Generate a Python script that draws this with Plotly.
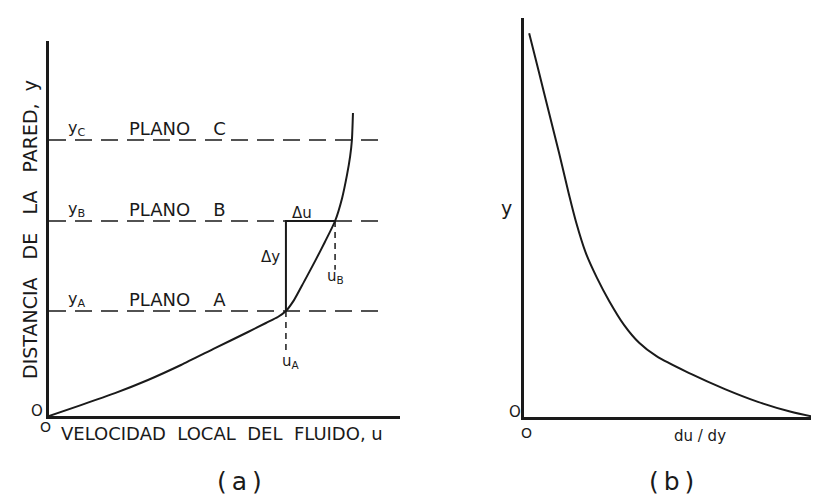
import plotly.graph_objects as go

# ---------------- Panel (a): velocity profile ----------------
u_profile = [0.0, 0.91, 1.88, 2.82, 3.76, 4.73, 5.67, 6.18, 6.52, 6.75, 6.98, 7.26, 7.58, 7.86, 8.15,
             8.35, 8.49, 8.58, 8.63, 8.66]
y_profile = [0.0, 0.29, 0.61, 0.96, 1.36, 1.81, 2.24, 2.48, 2.64, 2.80, 3.09, 3.57, 4.13, 4.64, 5.20,
             5.81, 6.43, 6.93, 7.36, 8.08]

plane_names = ["PLANO    A", "PLANO    B", "PLANO    C"]
plane_y = [2.80, 5.20, 7.36]
plane_labels = ["y<sub>A</sub>", "y<sub>B</sub>", "y<sub>C</sub>"]
plane_u_end = 9.6

u_A = 6.75
u_B = 8.15
u_A_drop = 1.68
u_B_drop = 3.90

# ---------------- Panel (b): velocity gradient ----------------
dudy = [0.17, 0.50, 0.83, 1.16, 1.47, 1.72, 2.03, 2.40, 2.81, 3.30, 3.80, 4.36, 5.51, 6.63, 7.72, 8.81, 9.60]
y_grad = [9.62, 8.62, 7.61, 6.61, 5.62, 4.88, 4.13, 3.50, 2.91, 2.31, 1.86, 1.53, 1.08, 0.70, 0.38, 0.13, 0.0]

FONT = "DejaVu Sans"
INK = "#1a1a1a"
W, H = 819, 497

fig = go.Figure()

fig.add_trace(go.Scatter(x=u_profile, y=y_profile, mode="lines",
                         line=dict(color=INK, width=2, shape="spline", smoothing=0.6),
                         xaxis="x", yaxis="y", hoverinfo="skip"))
for py in plane_y:
    fig.add_trace(go.Scatter(x=[0, plane_u_end], y=[py, py], mode="lines",
                             line=dict(color=INK, width=1.6, dash="17px,9px"),
                             xaxis="x", yaxis="y", hoverinfo="skip"))
fig.add_trace(go.Scatter(x=[u_A, u_A, u_B], y=[plane_y[0], plane_y[1], plane_y[1]], mode="lines",
                         line=dict(color=INK, width=2), xaxis="x", yaxis="y", hoverinfo="skip"))
fig.add_trace(go.Scatter(x=[u_A, u_A], y=[plane_y[0], u_A_drop], mode="lines",
                         line=dict(color=INK, width=1.5, dash="6px,5px"), xaxis="x", yaxis="y", hoverinfo="skip"))
fig.add_trace(go.Scatter(x=[u_B, u_B], y=[plane_y[1], u_B_drop], mode="lines",
                         line=dict(color=INK, width=1.5, dash="6px,5px"), xaxis="x", yaxis="y", hoverinfo="skip"))

fig.add_trace(go.Scatter(x=dudy, y=y_grad, mode="lines",
                         line=dict(color=INK, width=2, shape="spline", smoothing=1.0),
                         xaxis="x2", yaxis="y2", hoverinfo="skip"))

ann = []
def T(px, py, text, size=16, angle=0, xanchor="center"):
    ann.append(dict(x=px / W, y=1 - py / H, xref="paper", yref="paper", text=text, showarrow=False,
                    font=dict(family=FONT, size=size, color=INK), textangle=angle,
                    xanchor=xanchor, yanchor="middle"))

for name, py, lab in zip(plane_names, [291, 201, 120], plane_labels):
    T(119, py, name, 18, xanchor="left")
    T(68, py, lab, 16)

T(294, 205, "Δu", 15)
T(262, 249, "Δy", 15)
T(283, 353, "u<sub>A</sub>", 15)
T(327, 268, "u<sub>B</sub>", 15)
T(214, 425, "VELOCIDAD  LOCAL  DEL  FLUIDO, u", 18)
T(22, 222, "DISTANCIA   DE   LA   PARED,  y", 19, angle=-90)
T(29, 403, "O", 15)
T(37, 419, "O", 14)
T(231, 473, "(\u2009a\u2009)", 25)

T(499, 200, "y", 19)
T(507, 404, "O", 15)
T(518, 425, "O", 14)
T(692, 428, "du / dy", 15)
T(663, 473, "(\u2009b\u2009)", 25)

axis_common = dict(showline=True, linecolor=INK, showgrid=False, zeroline=False,
                   showticklabels=False, ticks="")

fig.update_layout(
    width=W, height=H,
    margin=dict(l=0, r=0, t=0, b=0),
    paper_bgcolor="white", plot_bgcolor="white",
    showlegend=False,
    xaxis=dict(domain=[41 / W, 392 / W], range=[0, 10], linewidth=3, **axis_common),
    yaxis=dict(domain=[1 - 408 / H, 1 - 33 / H], range=[0, 10], linewidth=3, **axis_common),
    xaxis2=dict(domain=[516 / W, 1.0], range=[0, 10], linewidth=2.5, anchor="y2", **axis_common),
    yaxis2=dict(domain=[1 - 409 / H, 1 - 10 / H], range=[0, 10], linewidth=2.5, anchor="x2", **axis_common),
    annotations=ann,
)

fig.write_html("out.html")
